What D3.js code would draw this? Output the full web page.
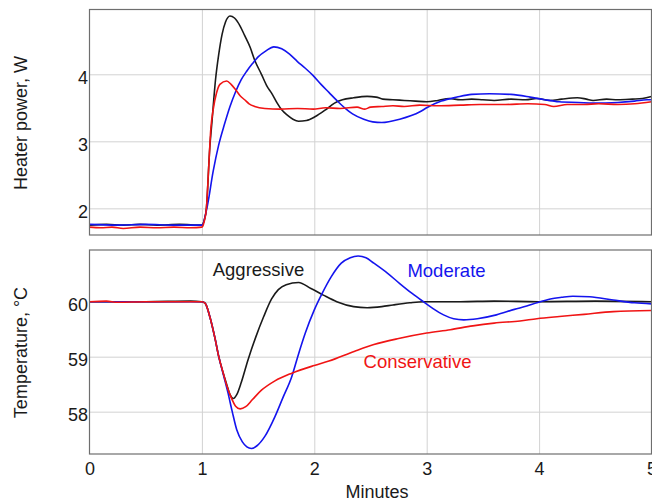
<!DOCTYPE html>
<html>
<head>
<meta charset="utf-8">
<script src="https://cdn.jsdelivr.net/npm/d3@7/dist/d3.min.js"></script>
<style>
  html, body { margin: 0; padding: 0; background: #fff; }
  svg { display: block; }
  text { font-family: "Liberation Sans", Arial, Helvetica, sans-serif; fill: #1a1a1a; }
</style>
</head>
<body>
<svg id="chart" width="652" height="502"></svg>
<script>
// ---------- data ----------
const xTicks = [0, 1, 2, 3, 4, 5];
const powerTicks = [2, 3, 4];
const tempTicks = [58, 59, 60];
const seriesNames = ["Aggressive", "Moderate", "Conservative"];
const seriesColors = ["#1a1a1a", "#1414ee", "#f01414"];

// Heater power, W  ([minutes, value])
const powerAggressive = [[0,1.75],[0.15,1.76],[0.3,1.75],[0.45,1.76],[0.6,1.75],[0.8,1.76],[1.0,1.75],[1.02,1.82],[1.04,2.0],[1.07,2.9],[1.09,3.3],[1.12,3.9],[1.15,4.3],[1.18,4.6],[1.21,4.78],[1.25,4.87],[1.29,4.84],[1.34,4.72],[1.38,4.58],[1.43,4.40],[1.47,4.21],[1.53,4.0],[1.58,3.82],[1.62,3.72],[1.67,3.57],[1.71,3.47],[1.76,3.39],[1.81,3.33],[1.86,3.30],[1.93,3.31],[2.01,3.37],[2.1,3.47],[2.18,3.57],[2.25,3.62],[2.35,3.65],[2.47,3.67],[2.55,3.66],[2.61,3.63],[2.7,3.62],[2.8,3.61],[2.9,3.60],[3.0,3.59],[3.1,3.61],[3.2,3.64],[3.3,3.62],[3.4,3.63],[3.5,3.62],[3.6,3.61],[3.75,3.63],[3.88,3.62],[3.98,3.64],[4.1,3.61],[4.2,3.63],[4.34,3.65],[4.42,3.63],[4.48,3.61],[4.6,3.63],[4.7,3.62],[4.83,3.63],[4.92,3.64],[5.0,3.67]];
const powerModerate = [[0,1.76],[0.25,1.75],[0.5,1.76],[0.75,1.75],[1.0,1.75],[1.05,2.05],[1.10,2.55],[1.15,2.95],[1.20,3.25],[1.25,3.52],[1.30,3.74],[1.35,3.92],[1.40,4.05],[1.45,4.16],[1.50,4.26],[1.57,4.35],[1.64,4.41],[1.71,4.38],[1.78,4.30],[1.85,4.19],[1.92,4.09],[1.99,3.98],[2.06,3.85],[2.13,3.73],[2.2,3.61],[2.27,3.50],[2.34,3.41],[2.44,3.33],[2.52,3.29],[2.6,3.28],[2.76,3.33],[2.94,3.44],[3.0,3.50],[3.13,3.60],[3.27,3.66],[3.4,3.70],[3.56,3.71],[3.75,3.70],[3.92,3.66],[4.05,3.62],[4.18,3.59],[4.35,3.58],[4.48,3.57],[4.7,3.58],[4.85,3.60],[4.96,3.62],[5.0,3.62]];
const powerConservative = [[0,1.72],[0.1,1.71],[0.2,1.72],[0.3,1.70],[0.45,1.72],[0.6,1.71],[0.75,1.72],[0.9,1.71],[1.0,1.72],[1.02,1.80],[1.04,2.0],[1.06,2.6],[1.08,3.2],[1.10,3.47],[1.13,3.72],[1.16,3.85],[1.22,3.90],[1.26,3.85],[1.30,3.77],[1.34,3.68],[1.38,3.62],[1.42,3.56],[1.47,3.52],[1.56,3.49],[1.7,3.48],[1.85,3.49],[1.99,3.48],[2.1,3.50],[2.23,3.49],[2.38,3.51],[2.45,3.48],[2.5,3.51],[2.6,3.52],[2.7,3.53],[2.8,3.52],[2.94,3.54],[3.1,3.53],[3.3,3.54],[3.47,3.55],[3.7,3.55],[3.9,3.56],[4.05,3.55],[4.13,3.52],[4.25,3.55],[4.4,3.55],[4.53,3.56],[4.7,3.55],[4.85,3.56],[5.0,3.59]];

// Temperature, °C  ([minutes, value])
const tempAggressive = [[0,60.0],[0.5,60.0],[0.9,60.01],[1.0,60.0],[1.03,59.97],[1.07,59.73],[1.12,59.30],[1.15,59.0],[1.19,58.7],[1.22,58.5],[1.25,58.31],[1.28,58.24],[1.31,58.31],[1.35,58.53],[1.41,58.94],[1.48,59.36],[1.55,59.73],[1.62,60.05],[1.68,60.22],[1.75,60.31],[1.86,60.35],[1.97,60.24],[2.08,60.12],[2.2,60.0],[2.35,59.91],[2.47,59.89],[2.6,59.91],[2.7,59.94],[2.85,59.98],[2.97,60.0],[3.3,60.0],[3.6,60.01],[4.0,60.0],[4.5,60.01],[5.0,60.0]];
const tempModerate = [[0,60.0],[1.0,60.0],[1.03,59.97],[1.07,59.73],[1.12,59.30],[1.15,59.0],[1.19,58.68],[1.23,58.36],[1.27,58.0],[1.31,57.67],[1.36,57.45],[1.40,57.36],[1.44,57.33],[1.49,57.38],[1.56,57.55],[1.65,57.91],[1.72,58.25],[1.80,58.64],[1.86,59.05],[1.92,59.43],[2.0,59.85],[2.07,60.15],[2.15,60.45],[2.24,60.70],[2.32,60.80],[2.39,60.83],[2.46,60.80],[2.53,60.70],[2.65,60.52],[2.76,60.33],[2.87,60.15],[2.97,60.0],[3.06,59.87],[3.15,59.76],[3.24,59.69],[3.33,59.67],[3.45,59.69],[3.62,59.76],[3.78,59.86],[3.89,59.92],[3.98,59.98],[4.1,60.05],[4.2,60.08],[4.30,60.10],[4.45,60.09],[4.66,60.03],[4.85,59.98],[5.0,59.96]];
const tempConservative = [[0,60.0],[0.15,60.01],[0.25,59.99],[0.5,60.0],[1.0,60.0],[1.03,59.97],[1.07,59.73],[1.12,59.30],[1.15,59.0],[1.19,58.7],[1.22,58.48],[1.26,58.26],[1.30,58.1],[1.34,58.05],[1.39,58.09],[1.45,58.22],[1.53,58.39],[1.65,58.56],[1.80,58.70],[2.0,58.84],[2.13,58.92],[2.36,59.10],[2.53,59.22],[2.75,59.33],[3.0,59.43],[3.21,59.49],[3.41,59.56],[3.6,59.61],[3.83,59.65],[3.98,59.69],[4.18,59.73],[4.4,59.77],[4.66,59.82],[5.0,59.84]];

// ---------- layout ----------
const svg = d3.select("#chart");
const left = 89.5, right = 651.5;
const topPanel = { y0: 9.5, y1: 235 };
const botPanel = { y0: 250, y1: 454 };

const x = d3.scaleLinear().domain([0, 5]).range([left, right]);
const yPower = d3.scaleLinear().domain([1.602, 4.967]).range([topPanel.y1, topPanel.y0]);
const yTemp = d3.scaleLinear().domain([57.23, 60.94]).range([botPanel.y1, botPanel.y0]);

svg.append("rect").attr("width", 652).attr("height", 502).attr("fill", "#fff");

function panel(id, y, panelBox, ticks, series, title, titleY) {
  const g = svg.append("g");
  g.append("clipPath").attr("id", id)
    .append("rect").attr("x", left).attr("y", panelBox.y0)
    .attr("width", right - left).attr("height", panelBox.y1 - panelBox.y0);

  // horizontal grid
  g.append("g")
    .attr("transform", `translate(${left},0)`)
    .call(d3.axisLeft(y).tickValues(ticks).tickSize(-(right - left)).tickFormat(""))
    .call(s => s.select(".domain").remove())
    .call(s => s.selectAll("line").attr("stroke", "#d2d2d2").attr("stroke-width", 1));
  // vertical grid
  g.append("g")
    .attr("transform", `translate(0,${panelBox.y1})`)
    .call(d3.axisBottom(x).tickValues([1, 2, 3, 4]).tickSize(-(panelBox.y1 - panelBox.y0)).tickFormat(""))
    .call(s => s.select(".domain").remove())
    .call(s => s.selectAll("line").attr("stroke", "#d2d2d2").attr("stroke-width", 1));

  // y tick labels
  g.append("g")
    .attr("transform", `translate(${left},0)`)
    .call(d3.axisLeft(y).tickValues(ticks).tickSize(0).tickPadding(2).tickFormat(d3.format("d")))
    .call(s => s.select(".domain").remove())
    .call(s => s.selectAll("text")
      .attr("font-size", 18).attr("fill", "#1a1a1a")
      .attr("font-family", "Liberation Sans, Arial, sans-serif")
      .attr("dy", null).attr("y", 9).attr("x", -1.5));

  // lines
  const line = d3.line().x(d => x(d[0])).y(d => y(d[1])).curve(d3.curveMonotoneX);
  const lg = g.append("g").attr("clip-path", `url(#${id})`);
  series.forEach((s, i) => {
    lg.append("path").datum(s)
      .attr("d", line)
      .attr("fill", "none")
      .attr("stroke", seriesColors[i])
      .attr("stroke-width", 1.6)
      .attr("stroke-linejoin", "round");
  });

  // frame
  g.append("rect").attr("x", left).attr("y", panelBox.y0)
    .attr("width", right - left).attr("height", panelBox.y1 - panelBox.y0)
    .attr("fill", "none").attr("stroke", "#6e6e6e").attr("stroke-width", 1.2);

  // y title
  g.append("text")
    .attr("transform", `translate(26.5,${titleY}) rotate(-90)`)
    .attr("text-anchor", "middle")
    .attr("font-size", 18)
    .text(title);
}

panel("clipTop", yPower, topPanel, powerTicks,
  [powerAggressive, powerModerate, powerConservative], "Heater power, W", 123);
panel("clipBot", yTemp, botPanel, tempTicks,
  [tempAggressive, tempModerate, tempConservative], "Temperature, °C", 352.5);

// x axis labels
svg.append("g")
  .attr("transform", `translate(0,${botPanel.y1})`)
  .call(d3.axisBottom(x).tickValues(xTicks).tickSize(0).tickPadding(0).tickFormat(d3.format("d")))
  .call(s => s.select(".domain").remove())
  .call(s => s.selectAll("text")
    .attr("font-size", 18).attr("fill", "#1a1a1a")
    .attr("font-family", "Liberation Sans, Arial, sans-serif")
    .attr("dy", null).attr("y", 21));

svg.append("text")
  .attr("x", 377).attr("y", 498)
  .attr("text-anchor", "middle")
  .attr("font-size", 18)
  .text("Minutes");

// series labels
const labelPos = [[258.5, 276], [446.5, 277], [417.5, 368]];
seriesNames.forEach((n, i) => {
  svg.append("text")
    .attr("x", labelPos[i][0]).attr("y", labelPos[i][1])
    .attr("text-anchor", "middle")
    .attr("font-size", 18.5)
    .style("fill", seriesColors[i])
    .text(n);
});
</script>
</body>
</html>
